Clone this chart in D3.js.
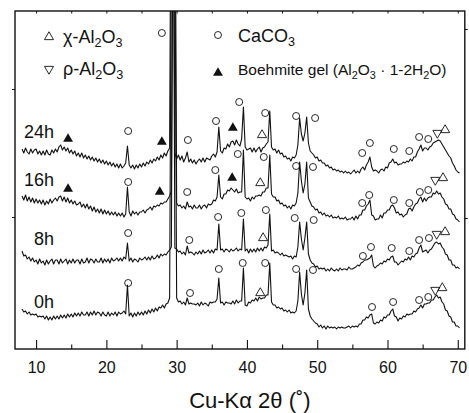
<!DOCTYPE html>
<html>
<head>
<meta charset="utf-8">
<script src="https://cdn.jsdelivr.net/npm/d3@7"></script>
<style>
  html, body { margin: 0; padding: 0; background: #fff; }
  svg { display: block; font-family: "Liberation Sans", Arial, Helvetica, sans-serif; }
</style>
</head>
<body>
<svg id="chart" width="469" height="413"></svg>
<script>
// scan grid: 8.00 .. 70.25 deg 2theta, 0.25 deg step
const angleStart = 8;
const angleStep = 0.25;

const seriesNames = ["0h", "8h", "16h", "24h"];
const seriesOffsets = [20, 75, 120, 170];
const labelAngle = 12.55;
const labelLevels = [21, 29, 43, 41];

// intensities (a.u.)
const counts0h = [
  20,17,18,15, 17,14,15,14, 15,12,13,12, 13,10,13,9, 12,9,13,10, 13,10,14,11,
  14,11,15,12, 15,12,16,13, 16,13,17,14, 14,17,13,17, 14,18,14,17, 16,13,17,14,
  13,17,13,16, 14,17,13,17, 15,16,18,15, 44,13,16,12, 16,13,17,14, 17,14,18,15,
  19,16,20,17, 21,18,22,21, 24,21,25,26, 31,400,420,400, 31,27,28,25, 27,24,31,25,
  26,25,25,24, 26,23,27,24, 26,25,23,27, 26,27,27,30, 51,26,27,24, 27,26,26,25,
  28,25,29,26, 28,28,61,24, 23,27,26,29, 28,31,28,32, 30,31,31,34, 34,66,27,24,
  24,21,22,20, 21,18,19,17, 19,16,17,16, 18,28,57,35, 24,36,59,20, 13,10,8,6,
  5,2,4,1, 3,0,3,1, 2,1,2,0, 2,1,2,1, 1,2,3,1, 3,2,3,2, 5,5,9,9, 12,11,14,15,
  6,5,7,6, 9,8,12,11, 14,14,18,20, 13,12,8,11, 10,13,12,15, 14,15,15,18,
  17,20,21,24, 21,25,25,26, 26,29,29,32, 34,31,32,27, 25,19,18,13, 12,7,7,3, 3,1
];
const counts8h = [
  23,18,19,15, 17,13,16,12, 14,10,15,11, 13,9,14,10, 13,15,10,14, 14,10,15,11,
  13,15,10,14, 11,15,11,14, 14,10,15,11, 12,16,11,15, 14,11,15,12, 12,16,11,15,
  12,15,11,16, 13,14,16,13, 16,13,17,15, 31,13,16,12, 15,14,12,16, 14,15,17,14,
  17,14,18,15, 16,19,16,20, 18,20,19,22, 24,27,420,26, 25,22,23,20, 22,19,28,21,
  22,21,19,22, 20,23,20,24, 21,22,24,21, 24,21,25,24, 50,24,25,22, 25,24,22,25,
  23,24,26,23, 25,24,55,23, 25,21,25,22, 25,22,26,23, 26,23,27,26, 29,60,23,24,
  21,22,21,19, 21,18,19,18, 17,18,15,18, 17,27,52,35, 24,36,52,20, 14,11,10,7,
  8,5,6,5, 6,3,5,3, 6,4,3,5, 3,6,4,5, 5,4,7,5, 5,6,7,9, 8,11,12,14, 14,15,16,19,
  8,6,8,9, 11,10,13,12, 15,14,17,18, 12,12,9,11, 13,12,15,14, 17,14,18,17,
  20,21,26,29, 22,23,24,21, 24,25,28,31, 32,30,31,27, 25,20,19,14, 14,9,9,6, 7,5
];
const counts16h = [
  33,29,34,28, 32,27,31,26, 30,26,29,25, 29,24,28,25, 30,26,29,31, 28,32,33,28,
  32,27,31,26, 29,25,28,24, 25,27,22,25, 21,25,20,23, 18,22,17,20, 16,20,15,19,
  15,18,14,17, 14,17,13,16, 13,16,12,15, 42,17,13,18, 15,17,14,17, 17,19,16,19,
  20,22,19,23, 22,24,23,26, 25,27,27,30, 33,38,400,420, 26,23,24,21, 23,20,27,22,
  23,20,24,21, 21,24,20,23, 24,21,25,24, 25,29,28,32, 54,32,30,35, 35,39,38,41,
  39,37,40,36, 37,37,79,32, 30,31,28,32, 30,33,33,34, 33,37,37,41, 41,74,35,32,
  32,28,29,25, 26,23,24,21, 23,20,24,23, 26,36,67,48, 36,45,67,31, 27,23,22,19,
  20,16,17,14, 16,13,14,12, 14,11,12,11, 13,10,11,10, 12,9,10,10, 12,9,13,10,
  14,14,19,19, 23,25,29,14, 13,9,10,10, 14,11,16,16, 19,19,23,24, 21,16,17,14,
  15,12,14,15, 20,21,18,22, 25,26,30,32, 27,31,28,31, 32,32,36,35, 38,35,36,32,
  30,25,24,20, 20,15,14,10, 9,7
];
const counts24h = [
  30,26,31,27, 25,30,26,29, 30,25,28,24, 28,24,29,25, 24,29,26,30, 27,32,34,29,
  32,28,31,26, 29,25,28,23, 26,22,26,21, 24,20,23,19, 22,18,21,17, 20,16,19,15,
  18,14,17,13, 16,12,15,11, 15,11,13,16, 33,14,11,14, 10,14,11,15, 12,16,13,17,
  15,19,16,20, 18,22,19,24, 21,26,23,28, 31,400,420,26, 20,24,19,23, 17,21,27,17,
  20,16,19,15, 18,20,17,21, 17,21,20,19, 23,25,22,27, 52,28,26,31, 30,35,32,37,
  38,34,39,35, 33,40,72,32, 29,30,31,27, 31,27,30,32, 27,31,32,35, 37,68,32,29,
  30,26,29,25, 26,22,23,20, 21,18,22,21, 24,34,61,45, 38,46,62,36, 28,26,24,21,
  22,18,19,16, 16,13,14,11, 12,9,10,8, 9,7,8,6, 8,6,7,5, 7,9,6,8, 6,10,12,9,
  14,17,22,12, 8,9,8,6, 9,10,8,12, 11,16,17,20, 16,17,14,15, 15,17,16,18,
  17,20,18,22, 22,27,30,34, 28,31,31,29, 32,33,36,37, 38,39,38,35, 32,29,26,23,
  21,16,13,9, 7,6
];

// phase markers: [phase, 2theta, level above the scan's offset]
const markers0h = [
  ["cal", 23.1, 46], ["cal", 31.9, 36], ["cal", 36.0, 60], ["cal", 39.4, 66],
  ["chi", 41.9, 36], ["cal", 42.6, 66], ["cal", 47.0, 60], ["cal", 49.4, 59],
  ["cal", 57.8, 22], ["cal", 60.8, 27], ["cal", 64.5, 29], ["cal", 65.8, 32],
  ["rho", 66.8, 39], ["chi", 67.8, 41]
];
const markers8h = [
  ["cal", 23.1, 41], ["cal", 31.8, 34], ["cal", 35.9, 57], ["cal", 39.2, 61],
  ["chi", 42.3, 36], ["cal", 42.7, 64], ["cal", 46.8, 56], ["cal", 49.5, 54],
  ["cal", 56.5, 18], ["cal", 57.65, 27], ["cal", 60.6, 26], ["cal", 63.1, 23],
  ["cal", 64.5, 34], ["cal", 65.9, 36], ["rho", 67.0, 40], ["chi", 68.2, 42]
];
const markers16h = [
  ["boe", 14.55, 40], ["cal", 23.1, 47], ["boe", 27.6, 37], ["cal", 31.5, 37],
  ["cal", 35.5, 59], ["boe", 37.9, 51], ["cal", 38.7, 75], ["chi", 41.9, 46],
  ["cal", 42.4, 72], ["cal", 47.0, 63], ["cal", 49.4, 62], ["cal", 56.4, 26],
  ["cal", 57.4, 34], ["cal", 60.9, 29], ["cal", 63.1, 26], ["cal", 64.6, 37],
  ["cal", 65.8, 39], ["rho", 66.8, 49], ["chi", 67.9, 51]
];
const markers24h = [
  ["boe", 14.55, 40], ["cal", 23.1, 48], ["boe", 27.9, 37], ["cal", 27.9, 146],
  ["cal", 31.6, 39], ["cal", 35.6, 58], ["boe", 38.0, 51], ["cal", 38.9, 77],
  ["chi", 42.15, 44], ["cal", 42.6, 66], ["cal", 47.0, 63], ["cal", 49.7, 61],
  ["cal", 56.4, 26], ["cal", 57.5, 36], ["cal", 60.9, 30], ["cal", 63.1, 28],
  ["cal", 64.5, 42], ["cal", 65.8, 40], ["rho", 67.1, 46], ["chi", 68.2, 49]
];

const xMajorTicks = [10, 20, 30, 40, 50, 60, 70];
const xMinorTicks = [15, 25, 35, 45, 55, 65];
const xLabel = "Cu-K\u03b1 2\u03b8 (\u02da)";

// legend: parts are [text, isSubscript]
const legendItems = [
  { phase: "chi", parts: [["\u03c7-Al", 0], ["2", 1], ["O", 0], ["3", 1]] },
  { phase: "rho", parts: [["\u03c1-Al", 0], ["2", 1], ["O", 0], ["3", 1]] },
  { phase: "cal", parts: [["CaCO", 0], ["3", 1]] },
  { phase: "boe", parts: [["Boehmite gel (Al", 0], ["2", 1], ["O", 0], ["3", 1],
    [" \u00b7 1-2H", 0], ["2", 1], ["O)", 0]] }
];

const countsBySeries = [counts0h, counts8h, counts16h, counts24h];
const markersBySeries = [markers0h, markers8h, markers16h, markers24h];

const svg = d3.select("#chart");
const plot = { left: 15, top: 11, right: 464.8, bottom: 349 };

const x = d3.scaleLinear().domain([7, 71]).range([plot.left, plot.right]);
const y = d3.scaleLinear().domain([0, 338]).range([plot.bottom, plot.top]);

svg.append("defs").append("clipPath").attr("id", "plot-clip")
  .append("rect")
  .attr("x", plot.left).attr("y", plot.top)
  .attr("width", plot.right - plot.left).attr("height", plot.bottom - plot.top);

const line = d3.line().x((d) => x(d[0])).y((d) => y(d[1]));

const scans = svg.append("g").attr("clip-path", "url(#plot-clip)");
countsBySeries.forEach((counts, i) => {
  const pts = counts.map((c, j) => [angleStart + j * angleStep, c + seriesOffsets[i]]);
  scans.append("path")
    .datum(pts)
    .attr("fill", "none")
    .attr("stroke", "#111")
    .attr("stroke-width", 1.1)
    .attr("stroke-linejoin", "round")
    .attr("d", line);
});

// markers
const triUp = d3.symbol(d3.symbolTriangle).size(36)();
const triFill = d3.symbol(d3.symbolTriangle).size(42)();

function drawMarker(g, phase, px, py) {
  if (phase === "cal") {
    g.append("circle").attr("cx", px).attr("cy", py).attr("r", 3.5)
      .attr("fill", "none").attr("stroke", "#111").attr("stroke-width", 0.9);
  } else if (phase === "boe") {
    g.append("path").attr("d", triFill)
      .attr("transform", `translate(${px},${py})`).attr("fill", "#111");
  } else {
    g.append("path").attr("d", triUp)
      .attr("transform", `translate(${px},${py})` + (phase === "rho" ? " rotate(180)" : ""))
      .attr("fill", "none").attr("stroke", "#111").attr("stroke-width", 0.9);
  }
}

const markG = svg.append("g");
markersBySeries.forEach((list, i) => {
  list.forEach(([phase, angle, level]) => {
    drawMarker(markG, phase, x(angle), y(level + seriesOffsets[i]));
  });
});

// series labels
svg.append("g").selectAll("text")
  .data(seriesNames)
  .join("text")
  .attr("x", x(labelAngle))
  .attr("y", (d, i) => y(labelLevels[i] + seriesOffsets[i]))
  .attr("text-anchor", "end")
  .attr("font-size", 18)
  .attr("fill", "#111")
  .text((d) => d);

// frame and axes
svg.append("rect")
  .attr("x", plot.left).attr("y", plot.top)
  .attr("width", plot.right - plot.left).attr("height", plot.bottom - plot.top)
  .attr("fill", "none").attr("stroke", "#111").attr("stroke-width", 1.4);

const xAxis = svg.append("g")
  .attr("transform", `translate(0,${plot.bottom})`)
  .call(d3.axisBottom(x).tickValues(xMajorTicks).tickSizeInner(-9).tickSizeOuter(0)
    .tickPadding(13).tickFormat(d3.format("d")));
xAxis.select(".domain").remove();
xAxis.selectAll("line").attr("stroke", "#111").attr("stroke-width", 1.1);
xAxis.selectAll("text")
  .attr("font-size", 16).attr("fill", "#111")
  .attr("font-family", "Liberation Sans, Arial, sans-serif");

const xMinor = svg.append("g")
  .attr("transform", `translate(0,${plot.bottom})`)
  .call(d3.axisBottom(x).tickValues(xMinorTicks).tickSizeInner(-4.5).tickSizeOuter(0).tickFormat(""));
xMinor.select(".domain").remove();
xMinor.selectAll("line").attr("stroke", "#111").attr("stroke-width", 1.1);

const xTop = svg.append("g")
  .attr("transform", `translate(0,${plot.top})`)
  .call(d3.axisTop(x).tickValues(xMajorTicks.concat(xMinorTicks)).tickSizeInner(-2.5)
    .tickSizeOuter(0).tickFormat(""));
xTop.select(".domain").remove();
xTop.selectAll("line").attr("stroke", "#111");

const yLeft = svg.append("g")
  .attr("transform", `translate(${plot.left},0)`)
  .call(d3.axisLeft(y).tickValues([132, 260]).tickSizeInner(3).tickSizeOuter(0).tickFormat(""));
yLeft.select(".domain").remove();
yLeft.selectAll("line").attr("stroke", "#111");

const yRight = svg.append("g")
  .attr("transform", `translate(${plot.right},0)`)
  .call(d3.axisRight(y).tickValues([131, 320]).tickSizeInner(3).tickSizeOuter(0).tickFormat(""));
yRight.select(".domain").remove();
yRight.selectAll("line").attr("stroke", "#111");

svg.append("text")
  .attr("x", (plot.left + plot.right) / 2 + 10)
  .attr("y", 408)
  .attr("text-anchor", "middle")
  .attr("font-size", 22)
  .attr("fill", "#111")
  .text(xLabel);

// legend
const legendLayout = [
  { mx: 49, my: 37, tx: 63, ty: 43, fs: 18 },
  { mx: 49, my: 69, tx: 63, ty: 75, fs: 18 },
  { mx: 218, my: 35, tx: 238, ty: 42, fs: 18 },
  { mx: 218, my: 73, tx: 238, ty: 75, fs: 15.5 }
];

function richText(g, parts, px, py, fs) {
  const t = g.append("text").attr("x", px).attr("y", py)
    .attr("font-size", fs).attr("fill", "#111");
  let shifted = 0;
  parts.forEach(([s, sub]) => {
    const want = sub ? fs * 0.24 : 0;
    t.append("tspan")
      .attr("dy", want - shifted)
      .attr("font-size", sub ? fs * 0.7 : fs)
      .text(s);
    shifted = want;
  });
}

const legendG = svg.append("g");
legendItems.forEach((item, i) => {
  const L = legendLayout[i];
  drawMarker(legendG, item.phase, L.mx, L.my);
  richText(legendG, item.parts, L.tx, L.ty, L.fs);
});
</script>
</body>
</html>
